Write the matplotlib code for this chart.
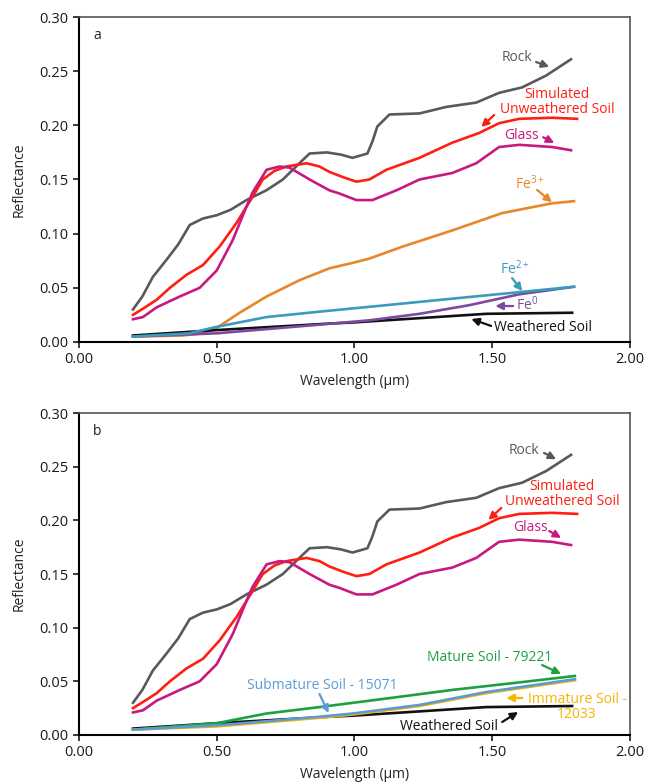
import numpy as np
import matplotlib
matplotlib.use('Agg')
import matplotlib.pyplot as plt
from matplotlib.ticker import FormatStrFormatter

plt.rcParams['font.family'] = ['Open Sans', 'DejaVu Sans']
plt.rcParams['mathtext.default'] = 'regular'

# spectra (wavelength um, reflectance)
rock_wl = [0.196, 0.23, 0.268, 0.318, 0.36, 0.402, 0.45, 0.5, 0.55, 0.608, 0.68, 0.74, 0.80, 0.837, 0.9, 0.95,
           0.993, 1.047, 1.065, 1.083, 1.127, 1.236, 1.333, 1.442, 1.525, 1.608, 1.696, 1.786]
rock_r = [0.030, 0.042, 0.060, 0.076, 0.090, 0.108, 0.114, 0.117, 0.122, 0.131, 0.140, 0.150, 0.165, 0.174, 0.175, 0.173,
          0.170, 0.174, 0.185, 0.199, 0.210, 0.211, 0.217, 0.221, 0.230, 0.235, 0.246, 0.261]

sim_wl = [0.196, 0.24, 0.282, 0.33, 0.39, 0.45, 0.51, 0.572, 0.63, 0.667, 0.71, 0.753, 0.826, 0.873, 0.909, 0.96,
          1.007, 1.054, 1.116, 1.236, 1.355, 1.453, 1.525, 1.598, 1.717, 1.808]
sim_r = [0.025, 0.032, 0.039, 0.050, 0.062, 0.071, 0.088, 0.110, 0.134, 0.150, 0.158, 0.162, 0.165, 0.162, 0.157, 0.152,
         0.148, 0.150, 0.159, 0.170, 0.184, 0.193, 0.202, 0.206, 0.207, 0.206]

glass_wl = [0.196, 0.232, 0.282, 0.366, 0.438, 0.5, 0.558, 0.608, 0.63, 0.681, 0.728, 0.764, 0.837, 0.909, 0.946,
            1.007, 1.065, 1.152, 1.236, 1.355, 1.442, 1.525, 1.598, 1.717, 1.786]
glass_r = [0.021, 0.023, 0.032, 0.042, 0.050, 0.066, 0.094, 0.125, 0.138, 0.159, 0.162, 0.161, 0.150, 0.140, 0.137,
           0.131, 0.131, 0.140, 0.150, 0.156, 0.165, 0.180, 0.182, 0.180, 0.177]

fe3_wl = [0.196, 0.377, 0.45, 0.5, 0.583, 0.681, 0.80, 0.909, 0.993, 1.054, 1.174, 1.355, 1.536, 1.717, 1.797]
fe3_r = [0.005, 0.006, 0.008, 0.013, 0.027, 0.042, 0.057, 0.068, 0.073, 0.077, 0.088, 0.103, 0.119, 0.128, 0.130]

fe2_wl = [0.196, 0.4, 0.5, 0.681, 0.873, 1.116, 1.355, 1.598, 1.797]
fe2_r = [0.005, 0.008, 0.014, 0.023, 0.028, 0.034, 0.040, 0.046, 0.051]

fe0_wl = [0.196, 0.5, 0.873, 1.054, 1.236, 1.417, 1.598, 1.797]
fe0_r = [0.005, 0.008, 0.016, 0.020, 0.026, 0.034, 0.044, 0.051]

wsoil_wl = [0.196, 0.5, 0.909, 0.993, 1.236, 1.478, 1.79]
wsoil_r = [0.006, 0.011, 0.017, 0.018, 0.022, 0.026, 0.027]

mature_wl = [0.196, 0.5, 0.68, 0.873, 1.116, 1.355, 1.598, 1.80]
mature_r = [0.005, 0.011, 0.020, 0.026, 0.034, 0.042, 0.049, 0.055]

submature_wl = [0.196, 0.5, 0.873, 0.993, 1.236, 1.478, 1.80]
submature_r = [0.005, 0.009, 0.017, 0.020, 0.028, 0.040, 0.052]

immature_wl = [0.196, 0.5, 0.873, 0.993, 1.236, 1.478, 1.80]
immature_r = [0.005, 0.008, 0.016, 0.019, 0.027, 0.039, 0.051]

c_rock = '#58595B'
c_sim = '#FF1E12'
c_glass = '#C8197F'
c_fe3 = '#E8862A'
c_fe2 = '#3A9BBD'
c_fe0 = '#7E4AA0'
c_ws = '#111111'
c_mat = '#1FA040'
c_sub = '#5B9BD5'
c_imm = '#F7B500'


def note(ax, txt, xy, c, tail, head, ha='center'):
    ax.text(xy[0], xy[1], txt, color=c, fontsize=10, ha=ha, va='center', linespacing=1.0)
    ax.annotate('', xy=head, xytext=tail,
                arrowprops=dict(arrowstyle='-|>', color=c, lw=1.6, mutation_scale=11, shrinkA=0, shrinkB=0))


def setup(ax, letter):
    ax.set_xlim(0, 2)
    ax.set_ylim(0, 0.3)
    ax.set_xticks(np.arange(0, 2.01, 0.5))
    ax.set_yticks(np.arange(0, 0.301, 0.05))
    ax.xaxis.set_major_formatter(FormatStrFormatter('%.2f'))
    ax.yaxis.set_major_formatter(FormatStrFormatter('%.2f'))
    ax.tick_params(direction='out', length=4, width=1.2, labelsize=10.5, colors='#1a1a1a')
    ax.spines['left'].set_linewidth(1.5)
    ax.spines['bottom'].set_linewidth(1.5)
    ax.spines['top'].set_color('#555555')
    ax.spines['right'].set_color('#555555')
    ax.spines['top'].set_linewidth(1.2)
    ax.spines['right'].set_linewidth(1.2)
    ax.set_xlabel('Wavelength (\u00b5m)', fontsize=10, labelpad=5, color='#222222')
    ax.set_ylabel('Reflectance', fontsize=10, labelpad=9, color='#222222')
    ax.text(0.067, 0.283, letter, fontsize=10, ha='center', va='center', color='#222222')


fig = plt.figure(figsize=(6.48, 7.84), dpi=100)
ax1 = fig.add_axes([0.1219, 0.5638, 0.8503, 0.4145])
ax2 = fig.add_axes([0.1219, 0.0625, 0.8503, 0.4107])
lw = 1.9

# panel a
ax1.plot(rock_wl, rock_r, color=c_rock, lw=lw)
ax1.plot(sim_wl, sim_r, color=c_sim, lw=lw)
ax1.plot(glass_wl, glass_r, color=c_glass, lw=lw)
ax1.plot(fe3_wl, fe3_r, color=c_fe3, lw=lw)
ax1.plot(wsoil_wl, wsoil_r, color=c_ws, lw=lw)
ax1.plot(fe0_wl, fe0_r, color=c_fe0, lw=lw)
ax1.plot(fe2_wl, fe2_r, color=c_fe2, lw=lw)
setup(ax1, 'a')

note(ax1, 'Rock', (1.591, 0.263), c_rock, (1.659, 0.2585), (1.707, 0.254))
note(ax1, 'Simulated\nUnweathered Soil', (1.736, 0.2215), c_sim, (1.507, 0.2095), (1.460, 0.1985))
note(ax1, 'Glass', (1.605, 0.191), c_glass, (1.685, 0.189), (1.725, 0.1837))
note(ax1, 'Fe$^{3+}$', (1.638, 0.146), c_fe3, (1.663, 0.1403), (1.717, 0.129))
note(ax1, 'Fe$^{2+}$', (1.583, 0.0675), c_fe2, (1.572, 0.059), (1.609, 0.047))
note(ax1, 'Fe$^{0}$', (1.627, 0.0342), c_fe0, (1.576, 0.0332), (1.511, 0.0332))
note(ax1, 'Weathered Soil', (1.507, 0.0138), c_ws, (1.496, 0.0148), (1.424, 0.0212), ha='left')

# panel b
ax2.plot(rock_wl, rock_r, color=c_rock, lw=lw)
ax2.plot(sim_wl, sim_r, color=c_sim, lw=lw)
ax2.plot(glass_wl, glass_r, color=c_glass, lw=lw)
ax2.plot(wsoil_wl, wsoil_r, color=c_ws, lw=lw)
ax2.plot(mature_wl, mature_r, color=c_mat, lw=lw)
ax2.plot(immature_wl, immature_r, color=c_imm, lw=lw)
ax2.plot(submature_wl, submature_r, color=c_sub, lw=lw)
setup(ax2, 'b')

note(ax2, 'Rock', (1.616, 0.2647), c_rock, (1.688, 0.2628), (1.732, 0.257))
note(ax2, 'Simulated\nUnweathered Soil', (1.754, 0.2246), c_sim, (1.533, 0.2116), (1.486, 0.2004))
note(ax2, 'Glass', (1.638, 0.193), c_glass, (1.707, 0.190), (1.75, 0.1836))
note(ax2, 'Mature Soil - 79221', (1.489, 0.0718), c_mat, (1.681, 0.0652), (1.75, 0.0569))
note(ax2, 'Submature Soil - 15071', (0.884, 0.0457), c_sub, (0.873, 0.0382), (0.906, 0.0205))
note(ax2, 'Immature Soil -\n12033', (1.808, 0.0261), c_imm, (1.609, 0.0345), (1.551, 0.0345))
note(ax2, 'Weathered Soil', (1.344, 0.0075), c_ws, (1.536, 0.0121), (1.594, 0.0214))

fig.savefig('out.png', dpi=100)
